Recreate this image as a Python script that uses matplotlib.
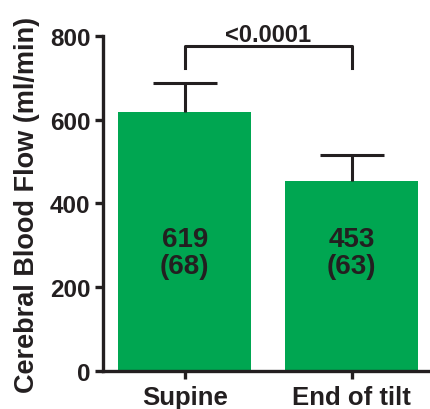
import matplotlib
matplotlib.use("Agg")
import matplotlib.pyplot as plt

categories = ["Supine", "End of tilt"]
means = [619, 453]
sds = [68, 63]
p_label = "<0.0001"
y_ticks = [0, 200, 400, 600, 800]

green = "#00A651"
dark = "#231F20"
plt.rcParams['font.family'] = ['Liberation Sans', 'DejaVu Sans']
plt.rcParams['font.weight'] = 'bold'

fig = plt.figure(figsize=(4.3, 4.1), dpi=100)
ax = fig.add_axes([0.2395, 0.0927, 0.7605, 0.8171])
x = list(range(len(categories)))
ax.bar(x, means, width=0.8, color=green, zorder=2)
eb = ax.errorbar(x, means, yerr=[[0] * len(sds), sds], fmt='none', ecolor=dark,
                 elinewidth=2.2, capsize=23, capthick=2.2, zorder=3)
# keep only the upper cap
caplines = eb.lines[1]
if len(caplines) == 2:
    caplines[0].set_visible(False)
for xi, m, s in zip(x, means, sds):
    ax.text(xi, 282, f"{m}\n({s})", ha='center', va='center',
            fontsize=20, fontweight='bold', color=dark, linespacing=1.05)

# significance bracket
yb, yl = 776, 724
ax.plot([x[0], x[0], x[1], x[1]], [yl, yb, yb, yl], color=dark, lw=2.2, clip_on=False)
ax.text((x[0] + x[1]) / 2, 789, p_label, ha='center', va='baseline', fontsize=17,
        fontweight='bold', color=dark)

ax.set_xlim(-0.49, 1.47)
ax.set_ylim(0, 800)
ax.set_yticks(y_ticks)
ax.set_xticks(x)
ax.set_xticklabels(categories)
ax.set_ylabel("Cerebral Blood Flow (ml/min)", fontsize=19.5, fontweight='bold', color=dark, labelpad=7)
for s in ['top', 'right']:
    ax.spines[s].set_visible(False)
for s in ['left', 'bottom']:
    ax.spines[s].set_linewidth(2.4)
    ax.spines[s].set_color(dark)
ax.tick_params(axis='both', width=2.4, length=6, color=dark, labelcolor=dark)
ax.tick_params(axis='y', labelsize=17.5, pad=3)
ax.tick_params(axis='x', labelsize=18.5, pad=4)
for lab in ax.get_xticklabels() + ax.get_yticklabels():
    lab.set_fontweight('bold')

fig.savefig("out.png", dpi=100)
